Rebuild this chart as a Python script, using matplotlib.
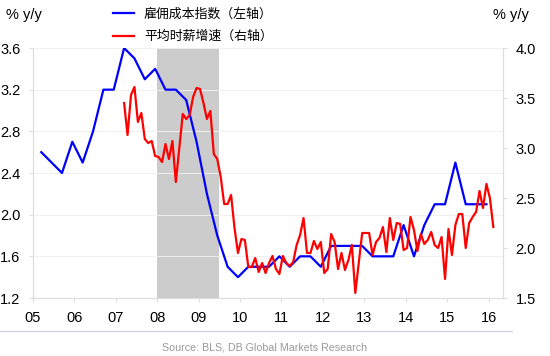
import numpy as np
import matplotlib
matplotlib.use('Agg')
import matplotlib.pyplot as plt

plt.rcParams['font.family'] = ['Liberation Sans', 'Noto Sans CJK SC', 'DejaVu Sans']

# 雇佣成本指数 (季度, 左轴) 2005Q1 - 2015Q4
eci_start = 2005.2
eci = [2.6, 2.5, 2.4, 2.7, 2.5, 2.8, 3.2, 3.2, 3.6, 3.5, 3.3, 3.4,
       3.2, 3.2, 3.1, 2.7, 2.2, 1.8, 1.5, 1.4, 1.5, 1.5, 1.5, 1.6,
       1.5, 1.6, 1.6, 1.5, 1.7, 1.7, 1.7, 1.7, 1.6, 1.6, 1.6, 1.9,
       1.6, 1.9, 2.1, 2.1, 2.5, 2.1, 2.1, 2.1]

# 平均时薪增速 (月度, 右轴) 2007-03 起
ahe_start = 2007.2
ahe = [3.45, 3.13, 3.53, 3.61, 3.26, 3.35, 3.09, 3.05, 3.07, 2.92, 2.91, 2.86,
       3.04, 2.89, 3.07, 2.66, 3.00, 3.34, 3.29, 3.33, 3.51, 3.60, 3.59, 3.45,
       3.29, 3.37, 2.94, 2.89, 2.71, 2.44, 2.44, 2.53, 2.20, 1.95, 2.09, 2.08,
       1.81, 1.81, 1.90, 1.76, 1.85, 1.75, 1.85, 1.92, 1.79, 1.74, 1.92, 1.85,
       1.82, 1.86, 2.03, 2.13, 2.30, 1.95, 1.95, 2.07, 1.99, 2.06, 1.75, 1.79,
       2.14, 2.06, 1.79, 1.95, 1.78, 1.88, 2.03, 1.55, 1.85, 2.15, 2.15, 2.15,
       1.93, 2.06, 2.10, 2.21, 1.96, 2.30, 2.08, 2.25, 2.24, 1.98, 2.00, 2.31,
       2.18, 1.97, 2.14, 2.04, 2.08, 2.16, 2.03, 2.00, 2.11, 1.69, 2.19, 1.93,
       2.23, 2.34, 2.34, 2.00, 2.25, 2.31, 2.36, 2.57, 2.40, 2.64, 2.50, 2.21]

recession = (2008.0, 2009.5)
years = list(range(2005, 2017))
year_labels = ['%02d' % (y % 100) for y in years]
left_ticks = [1.2, 1.6, 2.0, 2.4, 2.8, 3.2, 3.6]
right_ticks = [1.5, 2.0, 2.5, 3.0, 3.5, 4.0]

eci_x = eci_start + 0.25 * np.arange(len(eci))
ahe_x = ahe_start + np.arange(len(ahe)) / 12.0

grey = '#dddddd'

fig = plt.figure(figsize=(5.5, 3.56), dpi=100)
ax = fig.add_axes([33 / 550, 1 - 298 / 356, 470 / 550, 250 / 356])
ax2 = ax.twinx()

# 衰退阴影
ax.axvspan(recession[0], recession[1], color='#cccccc', zorder=0, lw=0)

for t in left_ticks:
    ax.axhline(t, color='#f0f0f0', lw=0.7, zorder=0.5)

l1, = ax.plot(eci_x, eci, color='#0000ff', lw=1.6, label='雇佣成本指数（左轴）')
l2, = ax2.plot(ahe_x, ahe, color='#ff0000', lw=1.6, label='平均时薪增速（右轴）')

ax.set_xlim(2005.0, 2016.35)
ax.set_ylim(1.2, 3.6)
ax2.set_ylim(1.5, 4.0)

ax.set_xticks(years)
ax.set_xticklabels(year_labels)
ax.set_yticks(left_ticks)
ax.set_yticklabels(['%.1f' % t for t in left_ticks])
ax2.set_yticks(right_ticks)
ax2.set_yticklabels(['%.1f' % t for t in right_ticks])

for a in (ax, ax2):
    for s in a.spines.values():
        s.set_color(grey)
        s.set_linewidth(0.8)
    a.spines['top'].set_visible(False)
    a.tick_params(colors=grey, labelcolor='black', labelsize=10.5, length=3, width=0.8)
ax.tick_params(axis='x', pad=6)
ax.tick_params(axis='y', pad=6)
ax2.tick_params(axis='y', pad=6)

# 单位
fig.text(6 / 550, 1 - 15 / 356, '% y/y', fontsize=10.5, va='center', ha='left')
fig.text(529 / 550, 1 - 15 / 356, '% y/y', fontsize=10.5, va='center', ha='right')

# 图例
fig.legend(handles=[l1, l2], loc='upper left', bbox_to_anchor=(113 / 550, 1 - 8 / 356),
           frameon=False, handlelength=1.6, handletextpad=0.8,
           labelspacing=0.7, borderpad=0, borderaxespad=0,
           prop={'family': ['Noto Sans CJK SC', 'DejaVu Sans'], 'size': 9.3})

# 底部分隔线和来源
fig.add_artist(plt.Line2D([0, 512 / 550], [1 - 331 / 356] * 2, color='#c8d0dc', lw=0.8))
fig.text(265 / 550, 1 - 348 / 356, 'Source: BLS, DB Global Markets Research',
         fontsize=7.7, color='#999999', ha='center', va='center')

plt.savefig('out.png', dpi=100)
